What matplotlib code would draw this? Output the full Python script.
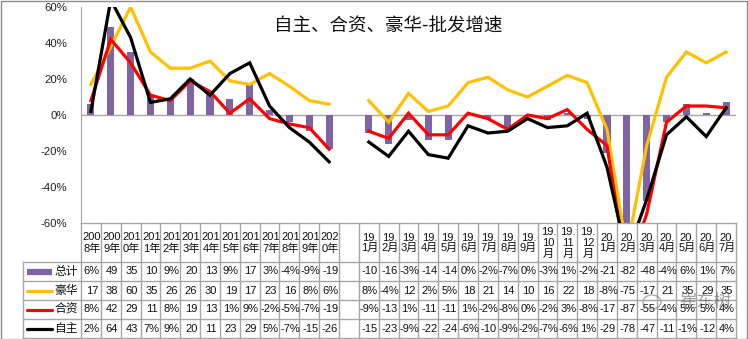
import numpy as np
import matplotlib
matplotlib.use("Agg")
import matplotlib.pyplot as plt
from matplotlib.transforms import blended_transform_factory
from matplotlib.patches import Rectangle, Ellipse

plt.rcParams['font.family'] = ['Liberation Sans', 'Noto Sans CJK SC']

# ---------------- data ----------------
categories = ["200\n8年", "200\n9年", "201\n0年", "201\n1年", "201\n2年", "201\n3年", "201\n4年",
              "201\n5年", "201\n6年", "201\n7年", "201\n8年", "201\n9年", "202\n0年", "",
              "19.\n1月", "19.\n2月", "19.\n3月", "19.\n4月", "19.\n5月", "19.\n6月", "19.\n7月",
              "19.\n8月", "19.\n9月", "19.\n10\n月", "19.\n11\n月", "19.\n12\n月",
              "20.\n1月", "20.\n2月", "20.\n3月", "20.\n4月", "20.\n5月", "20.\n6月", "20.\n7月"]
nan = np.nan
total = [6, 49, 35, 10, 9, 20, 13, 9, 17, 3, -4, -9, -19, nan,
         -10, -16, -3, -14, -14, 0, -2, -7, 0, -3, 1, -2, -21, -82, -48, -4, 6, 1, 7]
luxury = [17, 38, 60, 35, 26, 26, 30, 19, 17, 23, 16, 8, 6, nan,
          8, -4, 12, 2, 5, 18, 21, 14, 10, 16, 22, 18, -8, -75, -17, 21, 35, 29, 35]
joint = [8, 42, 29, 11, 8, 19, 13, 1, 9, -2, -5, -7, -19, nan,
         -9, -13, 1, -11, -11, 1, -2, -8, 0, -2, 3, -8, -17, -87, -55, -4, 5, 5, 4]
domestic = [2, 64, 43, 7, 9, 20, 11, 23, 29, 5, -7, -15, -26, nan,
            -15, -23, -9, -22, -24, -6, -10, -9, -2, -7, -6, 1, -29, -78, -47, -11, -1, -12, 4]
series_names = ["总计", "豪华", "合资", "自主"]
yticks = [-60, -40, -20, 0, 20, 40, 60]
title = "自主、合资、豪华-批发增速"

C_BAR = "#7F64A3"
C_LUX = "#FFC000"
C_JV = "#FF0000"
C_DOM = "#000000"
GRID = "#A6A6A6"

W, H = 748, 339
fig = plt.figure(figsize=(W / 100, H / 100), dpi=100)


def fx(px):
    return px / W


def fy(py):
    return 1 - py / H


L, R, T, B = 81, 736, 7, 223
ax = fig.add_axes([fx(L), fy(B), fx(R) - fx(L), (B - T) / H])
n = len(categories)
x = np.arange(n)
ax.set_xlim(-0.5, n - 0.5)
ax.set_ylim(-60, 60)

ax.bar(x, total, width=0.36, color=C_BAR, zorder=2)
ax.axhline(0, color=GRID, lw=1, zorder=1)
ax.plot(x, luxury, color=C_LUX, lw=2.3, zorder=3, solid_joinstyle='miter')
ax.plot(x, joint, color=C_JV, lw=2.3, zorder=4, solid_joinstyle='miter')
ax.plot(x, domestic, color=C_DOM, lw=2.3, zorder=5, solid_joinstyle='miter')

for s in ['top', 'right', 'bottom']:
    ax.spines[s].set_visible(False)
ax.spines['left'].set_color(GRID)
ax.set_xticks([])
ax.set_yticks(yticks)
ax.set_yticklabels([f"{v}%" for v in yticks], fontsize=8.2, color="#222222")
ax.tick_params(axis='y', length=0, pad=10)

fig.text(fx(388), fy(27), title, ha='center', va='center', fontsize=13.3,
         family=['Noto Sans CJK SC'], color="#111111")

# ---------------- data table ----------------
trans = blended_transform_factory(ax.transData, fig.transFigure)
ft = fig.transFigure

rows_px = [262, 281, 300, 319, 338]
ax.plot([-0.5, n - 0.5], [fy(B), fy(B)], color=GRID, lw=1, transform=trans, clip_on=False)
for yp in rows_px:
    fig.add_artist(plt.Line2D([fx(23), fx(R)], [fy(yp), fy(yp)], color=GRID, lw=1, transform=ft))
for i in range(n + 1):
    ax.plot([i - 0.5, i - 0.5], [fy(B), fy(338)], color=GRID, lw=1, transform=trans, clip_on=False)
fig.add_artist(plt.Line2D([fx(23), fx(23)], [fy(262), fy(338)], color=GRID, lw=1, transform=ft))

for i, c in enumerate(categories):
    if c:
        ax.text(i + 0.05, fy(243), c, transform=trans, ha='center', va='center', fontsize=8,
                linespacing=1.1, color="#111111")


def fmt(v):
    if np.isnan(v):
        return ""
    v = int(v)
    return f"{v}%" if abs(v) < 10 else f"{v}"


all_series = [total, luxury, joint, domestic]
colors = [C_BAR, C_LUX, C_JV, C_DOM]
for r, (vals, col, name) in enumerate(zip(all_series, colors, series_names)):
    yc = (rows_px[r] + rows_px[r + 1]) / 2
    for i, v in enumerate(vals):
        ax.text(i + 0.05, fy(yc), fmt(v), transform=trans, ha='center', va='center',
                fontsize=8, color="#111111")
    lw = 4.5 if r == 0 else 2.3
    fig.add_artist(plt.Line2D([fx(27), fx(52)], [fy(yc), fy(yc)], color=col, lw=lw,
                              transform=ft, solid_capstyle='butt' if r == 0 else 'round'))
    fig.text(fx(78), fy(yc), name, ha='right', va='center', fontsize=8.5,
             family=['Noto Sans CJK SC'], color="#111111")

# watermark (WeChat-style icon + name)
fig.add_artist(Ellipse((fx(652), fy(302)), 18 / W, 14 / H, transform=ft, fill=False,
                       edgecolor="#777777", lw=1, alpha=0.6))
fig.text(fx(705), fy(302), "崔东树", ha='center', va='center', fontsize=12.5,
         family=['Noto Sans CJK SC'], color="#555555", alpha=0.55)

fig.add_artist(Rectangle((0.5 / W, 0.5 / H), 1 - 1.5 / W, 1 - 1.5 / H, transform=ft,
                         fill=False, edgecolor="#8C8C8C", lw=1))

fig.savefig("out.png", dpi=100)
